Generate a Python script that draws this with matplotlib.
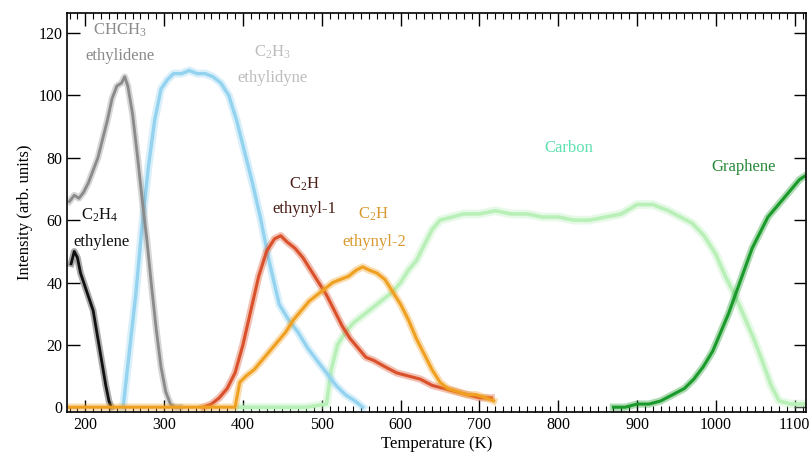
import matplotlib.pyplot as plt
from matplotlib.ticker import MultipleLocator

plt.rcParams['font.family'] = ['Liberation Serif', 'DejaVu Serif']
plt.rcParams['mathtext.default'] = 'regular'

# C2H4 ethylene
t_ethylene = [182, 186, 190, 194, 198, 202, 206, 210, 214, 218, 222, 226, 230, 233]
i_ethylene = [46, 50, 48, 43, 40, 37, 34, 31, 25, 19, 13, 7, 2, 0]

# CHCH3 ethylidene
t_ethylidene = [180, 186, 192, 198, 204, 210, 216, 222, 228, 234, 240, 246, 250, 254,
                260, 266, 272, 278, 284, 290, 296, 302, 308, 314, 320]
i_ethylidene = [66, 68, 67, 69, 72, 76, 80, 86, 92, 99, 103, 104, 106, 103,
                94, 81, 67, 54, 39, 25, 13, 5, 1, 0, 0]

# C2H3 ethylidyne
t_ethylidyne = [248, 256, 264, 272, 280, 288, 296, 304, 312, 322, 332, 342, 352, 362,
                372, 382, 392, 402, 412, 422, 434, 446, 458, 470, 482, 494, 506, 518,
                530, 542, 552]
i_ethylidyne = [0, 18, 36, 58, 77, 92, 102, 105, 107, 107, 108, 107, 107, 106,
                104, 100, 92, 82, 72, 61, 46, 33, 28, 24, 19, 15, 11, 7,
                4, 2, 0]

# C2H ethynyl-1
t_ethynyl1 = [350, 360, 370, 380, 390, 400, 410, 420, 430, 440, 448, 456, 466, 476,
              486, 496, 506, 516, 526, 536, 546, 556, 566, 580, 595, 610, 625, 640,
              655, 670, 685, 700, 715]
i_ethynyl1 = [0, 1, 3, 6, 11, 20, 31, 42, 50, 54, 55, 53, 51, 48,
              44, 40, 36, 31, 26, 22, 19, 16, 15, 13, 11, 10, 9, 7,
              6, 5, 4, 3, 3]

# C2H ethynyl-2
t_ethynyl2 = [180, 250, 320, 390, 396, 404, 414, 424, 434, 444, 454, 464, 474, 484,
              494, 504, 514, 524, 534, 544, 552, 560, 570, 580, 590, 600, 610, 620,
              630, 640, 650, 660, 672, 684, 696, 708, 718]
i_ethynyl2 = [0, 0, 0, 0, 8, 10, 12, 15, 18, 21, 24, 28, 31, 34,
              36, 38, 40, 41, 42, 44, 45, 44, 43, 41, 37, 33, 28, 22,
              17, 12, 8, 6, 5, 4, 4, 3, 2]

# Carbon
t_carbon = [395, 420, 450, 480, 506, 512, 520, 530, 540, 550, 560, 570, 580, 590,
            600, 610, 620, 630, 640, 650, 665, 680, 700, 720, 740, 760, 780, 800,
            820, 840, 860, 880, 900, 920, 940, 955, 970, 985, 1000, 1012, 1024,
            1036, 1048, 1060, 1070, 1080, 1095, 1112]
i_carbon = [0, 0, 0, 0, 1, 12, 20, 24, 27, 29, 31, 33, 35, 37,
            40, 44, 47, 52, 57, 60, 61, 62, 62, 63, 62, 62, 61, 61,
            60, 60, 61, 62, 65, 65, 63, 61, 59, 55, 49, 42, 36,
            29, 22, 14, 7, 2, 1, 1]

# Graphene
t_graphene = [870, 885, 900, 915, 930, 945, 960, 972, 984, 996, 1006, 1016, 1026,
              1036, 1046, 1056, 1066, 1076, 1086, 1096, 1106, 1112]
i_graphene = [0, 0, 1, 1, 2, 4, 6, 9, 13, 18, 24, 30, 37,
              44, 51, 56, 61, 64, 67, 70, 73, 74]

fig = plt.figure(figsize=(8.09, 4.59), dpi=100)
ax = fig.add_axes([0.083, 0.102, 0.913, 0.870])


def fuzzy(t, i, color, lw=2.2):
    # a soft wide band under a thinner core line, like the noisy data
    ax.plot(t, i, color=color, lw=lw * 2.4, alpha=0.35, solid_joinstyle='round')
    ax.plot(t, i, color=color, lw=lw, solid_joinstyle='round')


fuzzy(t_carbon, i_carbon, '#b8f0b8', 2.6)
fuzzy(t_ethylidyne, i_ethylidyne, '#93d3f0', 2.4)
fuzzy(t_ethylidene, i_ethylidene, '#8a8a8a', 2.0)
fuzzy(t_ethylene, i_ethylene, '#111111', 2.0)
fuzzy(t_ethynyl1, i_ethynyl1, '#d9502a', 2.2)
fuzzy(t_ethynyl2, i_ethynyl2, '#f0a020', 2.2)
fuzzy(t_graphene, i_graphene, '#1a9a2a', 2.2)

fs = 12
ax.text(244, 121, 'CHCH$_3$', color='#8a8a8a', fontsize=fs, ha='center', va='center')
ax.text(244, 112.5, 'ethylidene', color='#8a8a8a', fontsize=fs, ha='center', va='center')
ax.text(437, 114, 'C$_2$H$_3$', color='#bdbdbd', fontsize=fs, ha='center', va='center')
ax.text(437, 105.5, 'ethylidyne', color='#bdbdbd', fontsize=fs, ha='center', va='center')
ax.text(218, 61.5, 'C$_2$H$_4$', color='#111111', fontsize=fs, ha='center', va='center')
ax.text(220, 53, 'ethylene', color='#111111', fontsize=fs, ha='center', va='center')
ax.text(478, 71.5, 'C$_2$H', color='#4a1e18', fontsize=fs, ha='center', va='center')
ax.text(478, 63.5, 'ethynyl-1', color='#4a1e18', fontsize=fs, ha='center', va='center')
ax.text(566, 62, 'C$_2$H', color='#d89a30', fontsize=fs, ha='center', va='center')
ax.text(566, 53, 'ethynyl-2', color='#d89a30', fontsize=fs, ha='center', va='center')
ax.text(814, 83, 'Carbon', color='#5fe0b0', fontsize=fs, ha='center', va='center')
ax.text(1035, 77, 'Graphene', color='#2a8a3a', fontsize=fs, ha='center', va='center')

ax.set_xlim(177, 1114)
ax.set_ylim(-1.6, 126.5)
ax.xaxis.set_major_locator(MultipleLocator(100))
ax.xaxis.set_minor_locator(MultipleLocator(10))
ax.yaxis.set_major_locator(MultipleLocator(20))
ax.tick_params(which='both', direction='in', top=True, right=True, labelsize=11.5)
ax.tick_params(which='major', length=9, width=1)
ax.tick_params(which='minor', length=4, width=0.8)
ax.tick_params(axis='y', which='minor', left=False, right=False)
for s in ax.spines.values():
    s.set_linewidth(1.2)
ax.set_xlabel('Temperature (K)', fontsize=12, labelpad=2)
ax.set_ylabel('Intensity (arb. units)', fontsize=12, labelpad=4)

fig.savefig('out.png', dpi=100)
